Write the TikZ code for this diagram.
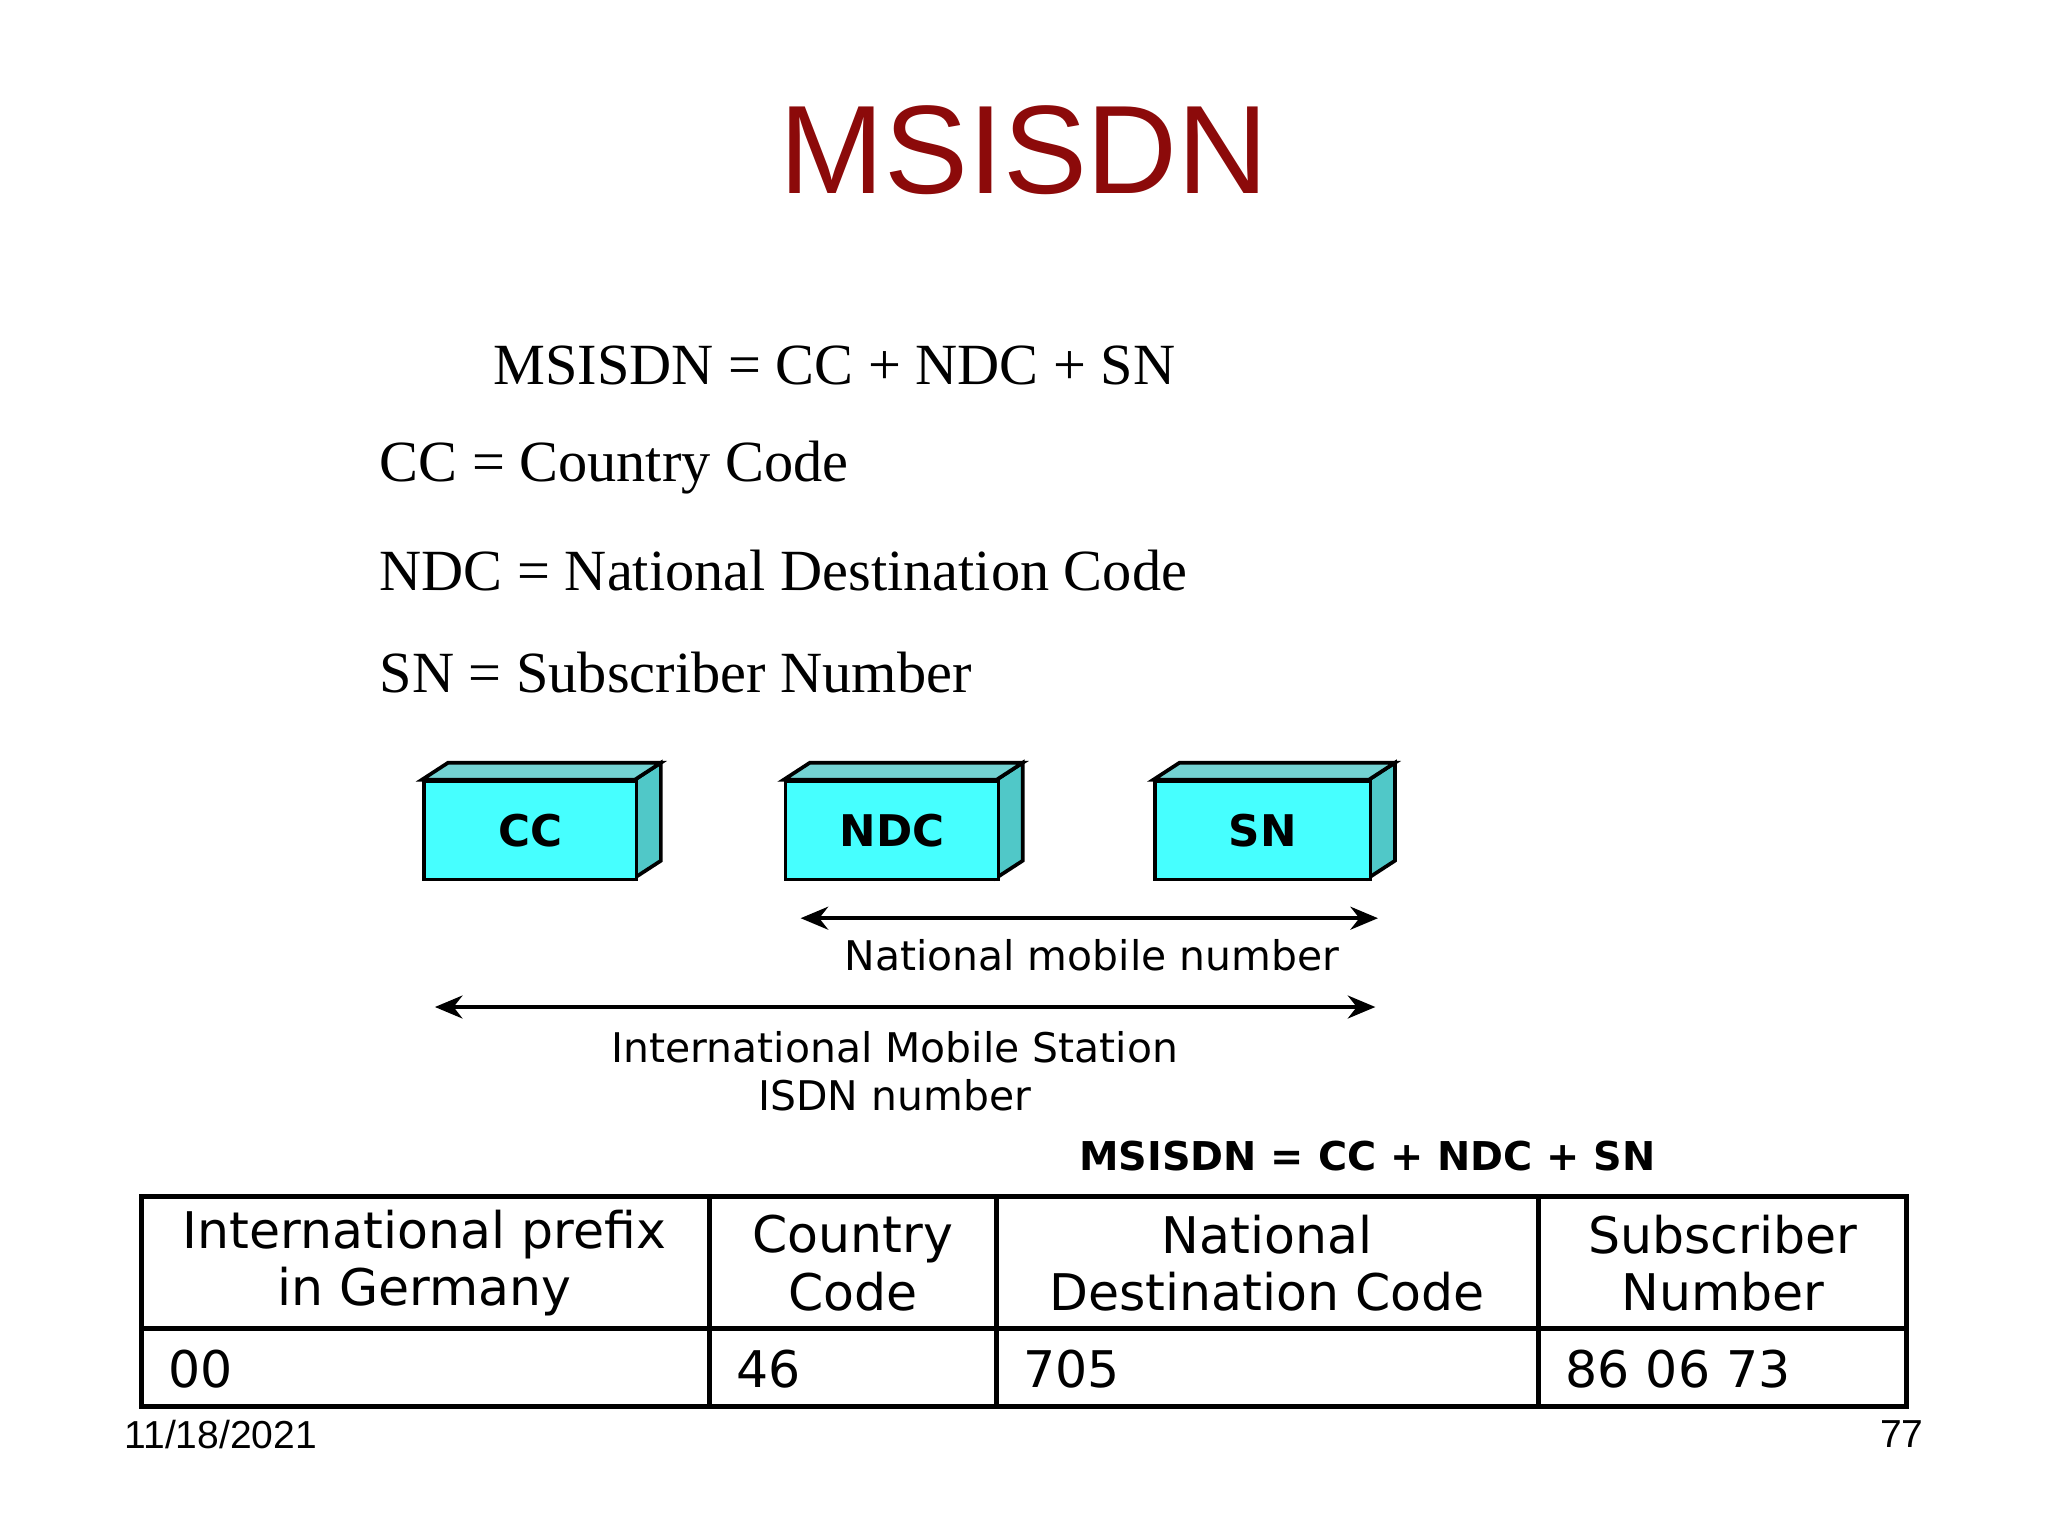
\documentclass[tikz,border=0pt]{standalone}
\usepackage{fontspec}
\setmainfont{Liberation Serif}
\newfontfamily\arialf{Liberation Sans}
\newfontfamily\widef{DejaVu Sans}
\usetikzlibrary{arrows.meta}
\definecolor{titlered}{RGB}{140,10,10}
\definecolor{cyanf}{RGB}{70,255,255}
\definecolor{cyans}{RGB}{80,200,200}
\tikzset{
 eq/.style={anchor=west,font=\fontsize{12.7}{14}\selectfont,inner sep=0},
 lbl/.style={font=\widef\fontsize{8.9}{10.5}\selectfont,align=center,inner sep=0},
 tb/.style={font=\widef\fontsize{11}{12.5}\selectfont,align=center,inner sep=0},
 dim/.style={{Stealth[length=6pt,width=5pt]}-{Stealth[length=6pt,width=5pt]},thick},
 tline/.style={line width=1.1pt}
}
\newcommand{\boxthree}[4]{% x1,y1,x2,name
 \fill[cyans,draw=black,thick] (#3,#2)--(#3+20,#2-13)--(#3+20,672-13)--(#3,672)--cycle;
 \fill[cyans!80!white,draw=black,thick] (#1,#2)--(#1+20,#2-13)--(#3+20,#2-13)--(#3,#2)--cycle;
 \node[draw=black,thick,fill=cyanf,minimum width=(#3-#1)*0.01cm,minimum height=75*0.01cm,anchor=north west,inner sep=0,font=\widef\bfseries\fontsize{9.5}{11}\selectfont] (#4) at (#1,#2) {\MakeUppercase{#4}};}
\begin{document}
\begin{tikzpicture}[x=0.01cm,y=-0.01cm]
\useasboundingbox (0,0) rectangle (1568,1176);
\node[font=\arialf\fontsize{27.4}{32}\selectfont,text=titlered] (title) at (784,115) {MSISDN};
\node[eq] (e1) at (377,280) {MSISDN = CC + NDC + SN};
\node[eq] (e2) at (290,358) {CC = Country Code};
\node[eq] (e3) at (290,437) {NDC = National Destination Code};
\node[eq] (e4) at (290,515) {SN = Subscriber Number};
\boxthree{323}{597}{486}{cc}
\boxthree{600}{597}{763}{ndc}
\boxthree{883}{597}{1048}{sn}
\coordinate (a1) at (613,703); \coordinate (a2) at (1055,703);
\draw[dim] (a1)--(a2);
\node[lbl] (nm) at (836,731) {National mobile number};
\coordinate (b1) at (333,771); \coordinate (b2) at (1053,771);
\draw[dim] (b1)--(b2);
\node[lbl] (im) at (685,820) {International Mobile Station\\ISDN number};
\node[font=\widef\bfseries\fontsize{8.65}{10}\selectfont] (ms) at (1047,885) {MSISDN = CC + NDC + SN};
\draw[tline] (108,916) rectangle (1460,1077);
\draw[tline] (108,1017)--(1460,1017);
\foreach \x in {543,763,1178} \draw[tline] (\x,916)--(\x,1077);
\node[tb] (h1) at (325,967) {International prefix\\in Germany};
\node[tb] (h2) at (653,967) {Country\\Code};
\node[tb] (h3) at (970,967) {National\\Destination Code};
\node[tb] (h4) at (1319,967) {Subscriber\\Number};
\node[tb,anchor=west] (v1) at (128,1048) {00};
\node[tb,anchor=west] (v2) at (563,1048) {46};
\node[tb,anchor=west] (v3) at (783,1048) {705};
\node[tb,anchor=west] (v4) at (1198,1048) {86 06 73};
\node[font=\arialf\fontsize{8.5}{10}\selectfont,inner sep=0] (d) at (169,1098) {11/18/2021};
\node[font=\arialf\fontsize{8.5}{10}\selectfont,inner sep=0] (p) at (1456,1098) {77};
\end{tikzpicture}
\end{document}
